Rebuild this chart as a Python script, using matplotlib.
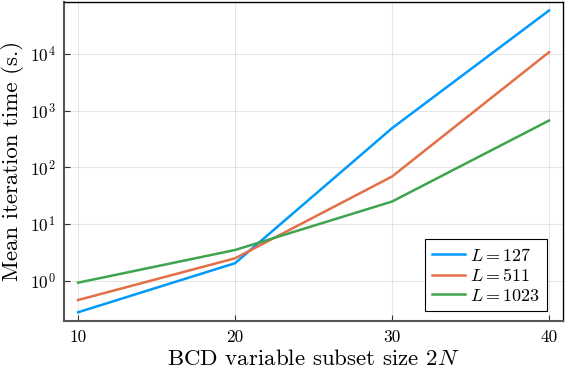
import matplotlib
matplotlib.use("Agg")
import matplotlib.pyplot as plt
import numpy as np

plt.rcParams['font.family'] = ['cmr10', 'DejaVu Serif']
plt.rcParams['mathtext.fontset'] = 'cm'
plt.rcParams['axes.formatter.use_mathtext'] = True

subset_sizes = [10, 20, 30, 40]
labels = [r"$L = 127$", r"$L = 511$", r"$L = 1023$"]
times_127 = [0.28, 2.05, 490, 58000]
times_511 = [0.46, 2.5, 69, 10700]
times_1023 = [0.93, 3.5, 25, 668]
colors = ["#009AFA", "#E36F47", "#3EA44E"]
xticks = [10, 20, 30, 40]

fig = plt.figure(figsize=(5.66, 3.68), dpi=100)
ax = fig.add_axes([0.113, 0.128, 0.882, 0.867])

for ys, lab, c in zip([times_127, times_511, times_1023], labels, colors):
    ax.plot(subset_sizes, ys, color=c, lw=1.8, label=lab)

ax.set_yscale('log')
ax.set_xlim(9.1, 40.9)
ax.set_ylim(10**-0.705, 10**4.916)
ax.set_xticks(xticks)
ax.set_xticklabels([str(t) for t in xticks])
ax.set_yticks([1, 10, 100, 1000, 10000])
ax.set_yticklabels([r"$10^{%d}$" % i for i in range(5)])
ax.yaxis.set_minor_locator(matplotlib.ticker.NullLocator())
ax.grid(True, color='black', alpha=0.1, lw=0.8)
ax.tick_params(direction='in', length=4, width=0.8, labelsize=12.5, colors='#333333', labelcolor='black', pad=6)
for s in ['left', 'bottom']:
    ax.spines[s].set_color('#555555')
    ax.spines[s].set_linewidth(1.5)
for s in ['top', 'right']:
    ax.spines[s].set_color('black')
    ax.spines[s].set_linewidth(1.0)

ax.set_xlabel(r"BCD variable subset size $2N$", fontsize=16.5, labelpad=3)
ax.set_ylabel(r"Mean iteration time (s.)", fontsize=16.5, labelpad=4)

leg = ax.legend(loc='lower right', bbox_to_anchor=(0.968, 0.031), fontsize=13,
                fancybox=False, framealpha=1, edgecolor='black', borderaxespad=0,
                handlelength=1.8, handletextpad=0.3, labelspacing=0.2, borderpad=0.4)
leg.get_frame().set_linewidth(0.8)

fig.savefig("out.png", dpi=100)
